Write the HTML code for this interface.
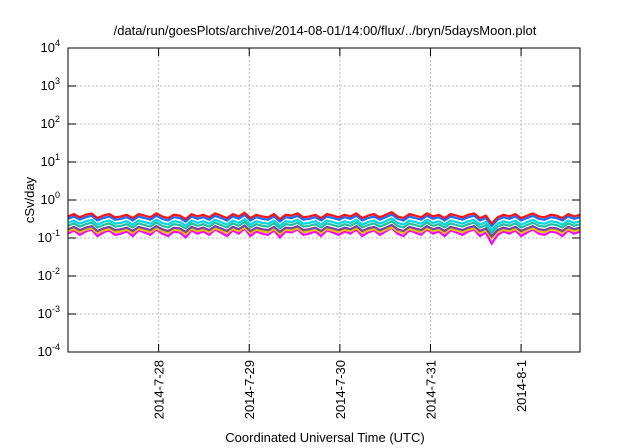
<!DOCTYPE html>
<html><head><meta charset="utf-8"><style>
body{margin:0;background:#fff}
svg{display:block;font-family:"Liberation Sans",sans-serif}
</style></head><body>
<svg id="c" width="640" height="448" viewBox="0 0 640 448">
<text x="325" y="35" font-size="13" text-anchor="middle">/data/run/goesPlots/archive/2014-08-01/14:00/flux/../bryn/5daysMoon.plot</text>
<text x="325" y="442" font-size="13" text-anchor="middle">Coordinated Universal Time (UTC)</text>
<text transform="translate(34,200) rotate(-90)" font-size="13" text-anchor="middle">cSv/day</text>
<g id="grid"></g><g id="series"></g><g id="axes"></g>
</svg>
<script>
const yExponents=[4,3,2,1,0,-1,-2,-3,-4];
const xTickDays=[1,2,3,4,5];
const xTickLabels=["2014-7-28","2014-7-29","2014-7-30","2014-7-31","2014-8-1"];
const seriesColors=["#ff00ff","#e8c000","#7a3fa0","#20c0a0","#00d8e0","#1a6cff","#ff1010"];
const seriesNames=["magenta","yellow","purple","teal","cyan","blue","red"];
const seriesLevels=[0.13,0.15,0.17,0.21,0.25,0.32,0.37];
const fluct=[1.0,1.15,0.95,1.1,1.2,0.9,1.05,1.15,0.95,1.0,1.1,0.9,1.15,1.05,0.95,1.2,1.0,0.9,1.1,1.05,0.85,1.15,1.0,1.1,0.95,1.2,1.05,0.9,1.15,1.0,1.25,0.9,1.1,1.0,0.95,1.15,0.85,1.1,1.05,1.2,0.95,1.0,1.1,0.9,1.15,1.05,0.95,1.1,1.0,1.2,0.9,1.05,1.15,0.95,1.1,1.3,1.0,0.9,1.15,1.05,0.95,1.2,1.0,1.1,0.9,1.15,1.05,0.95,1.1,1.2,0.9,1.05,0.65,0.95,1.1,1.0,1.15,0.9,1.05,1.2,1.0,0.95,1.1,1.05,0.9,1.15,1.0,1.1];
const L=68,R=580,T=48,B=352,D0=0,D1=5.65;
const xs=d=>L+(d-D0)/(D1-D0)*(R-L);
const ys=v=>T+(4-Math.log10(v))/8*(B-T);
const NS="http://www.w3.org/2000/svg";
function mk(tag,attrs,parent){const e=document.createElementNS(NS,tag);for(const k in attrs)e.setAttribute(k,attrs[k]);parent.appendChild(e);return e;}
const grid=document.getElementById('grid'),axes=document.getElementById('axes'),ser=document.getElementById('series');
yExponents.forEach(p=>{const y=ys(Math.pow(10,p));
 if(p<4&&p>-4){const g=mk('line',{x1:L,x2:R,y1:y,y2:y,stroke:'#bbb','stroke-dasharray':'2,2'},grid);
 
 }
 mk('line',{x1:L,x2:L+8,y1:y,y2:y,stroke:'#000'},axes);mk('line',{x1:R-8,x2:R,y1:y,y2:y,stroke:'#000'},axes);
 const t=mk('text',{x:L-8,y:y+4,'font-size':13,'text-anchor':'end'},axes);
 
 
 t.innerHTML='10<tspan dy="-6" font-size="9">'+p+'</tspan>';});
xTickDays.forEach((d,i)=>{const x=xs(d);
 const g=mk('line',{x1:x,x2:x,y1:T,y2:B,stroke:'#bbb','stroke-dasharray':'2,2'},grid);
 
 
 mk('line',{x1:x,x2:x,y1:B,y2:B-8,stroke:'#000'},axes);mk('line',{x1:x,x2:x,y1:T,y2:T+8,stroke:'#000'},axes);
 const t=mk('text',{transform:`translate(${x+5},${B+8}) rotate(-90)`,'font-size':13,'text-anchor':'end'},axes);
 
 
 t.textContent=xTickLabels[i];});
const fr=mk('rect',{x:L,y:T,width:R-L,height:B-T,fill:'none',stroke:'#000'},axes);


seriesLevels.forEach((lv,s)=>{const n=fluct.length;
 const pts=fluct.map((f,i)=>{const v=lv*Math.pow(f,s===0?1.4:1);return xs(D0+i/(n-1)*(D1-D0)).toFixed(1)+','+ys(v).toFixed(1);}).join(' ');
 const p=mk('polyline',{points:pts,fill:'none',stroke:seriesColors[s],'stroke-width':2.2},ser);
 
 });
</script>
</body></html>
